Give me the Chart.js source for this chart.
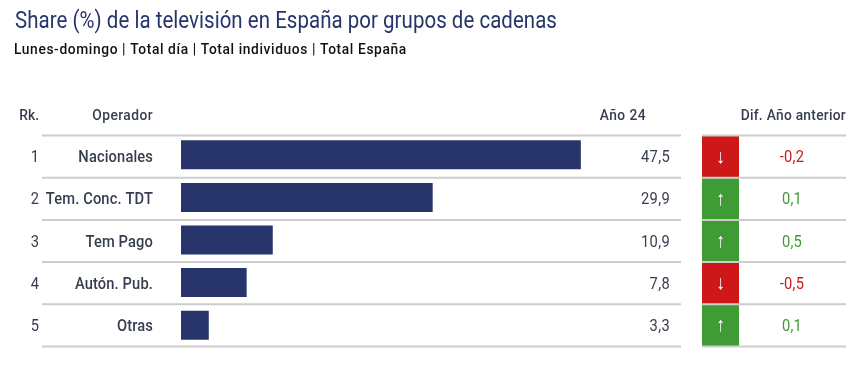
<!DOCTYPE html>
<html>
<head>
<meta charset="utf-8">
<script src="https://cdn.jsdelivr.net/npm/chart.js@4"></script>
<style>
  html, body { margin: 0; padding: 0; background: #fff; }
  #wrap { width: 867px; height: 368px; }
</style>
</head>
<body>
<div id="wrap"><canvas id="myChart"></canvas></div>
<script>
const operators = ['Nacionales', 'Tem. Conc. TDT', 'Tem Pago', 'Autón. Pub.', 'Otras'];
const ranks = [1, 2, 3, 4, 5];
const shares = [47.5, 29.9, 10.9, 7.8, 3.3];
const diffs = [-0.2, 0.1, 0.5, -0.5, 0.1];

const titleText = 'Share (%) de la televisión en España por grupos de cadenas';
const subtitleText = 'Lunes-domingo | Total día | Total individuos | Total España';

const face = 'Roboto, sans-serif';
const navy = '#27356b';
const ink = '#363d4e';
const ruleColor = '#cdcdcd';
const red = '#cd1719';
const green = '#3f9c35';
const squeeze = 0.89; // no condensed font here, so squash horizontally
const ruleGap = 42.2; // the rules run a touch tighter than the bars

const fmt = v => v.toFixed(1).replace('.', ',');

function put(ctx, text, x, y, font, color, align, spacing) {
  ctx.save();
  ctx.font = font;
  ctx.fillStyle = color;
  ctx.textAlign = align;
  ctx.textBaseline = 'middle';
  ctx.letterSpacing = spacing || '0px';
  ctx.translate(x, y);
  ctx.scale(squeeze, 1);
  ctx.fillText(text, 0, 0);
  ctx.restore();
}

// title, headers, rules, arrow cells and the text columns
const tablePlugin = {
  id: 'table',
  afterDraw(chart) {
    const { ctx, chartArea } = chart;
    const ruleY = i => chartArea.bottom - (ranks.length - i) * ruleGap;
    ctx.save();

    put(ctx, titleText, 15, 22, '23px ' + face, navy, 'left', '0.04px');
    put(ctx, subtitleText, 14, 50, '500 15.5px ' + face, '#111', 'left', '0.68px');

    const head = '500 15.5px ' + face;
    put(ctx, 'Rk.', 39, 116, head, ink, 'right');
    put(ctx, 'Operador', 153, 116, head, ink, 'right', '0.5px');
    put(ctx, 'Año 24', 646, 116, head, ink, 'right', '0.5px');
    put(ctx, 'Dif. Año anterior', 846, 116, head, ink, 'right', '0.3px');

    ranks.forEach((r, i) => {
      const top = ruleY(i);
      const cy = top + ruleGap / 2 + 1.5;
      const up = diffs[i] >= 0;
      ctx.fillStyle = up ? green : red;
      ctx.fillRect(702, top, 37, ruleGap);
      put(ctx, up ? '↑' : '↓', 720.5, cy - 1, '20px "Liberation Sans"', '#fff', 'center');
      put(ctx, String(r), 39, cy, '16.5px ' + face, ink, 'right');
      put(ctx, operators[i], 153, cy, '500 16.5px ' + face, ink, 'right', '0.15px');
      put(ctx, fmt(shares[i]), 670, cy, '16.5px ' + face, ink, 'right', '0.4px');
      put(ctx, fmt(diffs[i]), 792, cy, '16.5px ' + face, up ? green : red, 'center', '0.3px');
    });

    ctx.strokeStyle = ruleColor;
    ctx.lineWidth = 2;
    for (let i = 0; i <= ranks.length; i++) {
      const ry = ruleY(i);
      ctx.beginPath();
      ctx.moveTo(42, ry);
      ctx.lineTo(chartArea.right, ry);
      ctx.moveTo(702, ry);
      ctx.lineTo(846, ry);
      ctx.stroke();
    }
    ctx.restore();
  }
};

new Chart(document.getElementById('myChart'), {
  type: 'bar',
  data: {
    labels: operators,
    datasets: [{
      data: shares,
      backgroundColor: navy,
      borderWidth: 0,
      barPercentage: 0.68,
      categoryPercentage: 1
    }]
  },
  options: {
    indexAxis: 'y',
    responsive: true,
    maintainAspectRatio: false,
    animation: false,
    layout: { padding: { top: 133.5, bottom: 21.5, right: 186, left: 0 } },
    plugins: {
      legend: { display: false },
      tooltip: { enabled: false }
    },
    scales: {
      x: {
        min: 0,
        max: 59.4,
        display: false
      },
      y: {
        afterFit(scale) { scale.width = 181; },
        grid: { display: false },
        border: { display: false },
        ticks: { display: false }
      }
    }
  },
  plugins: [tablePlugin]
});
</script>
</body>
</html>
